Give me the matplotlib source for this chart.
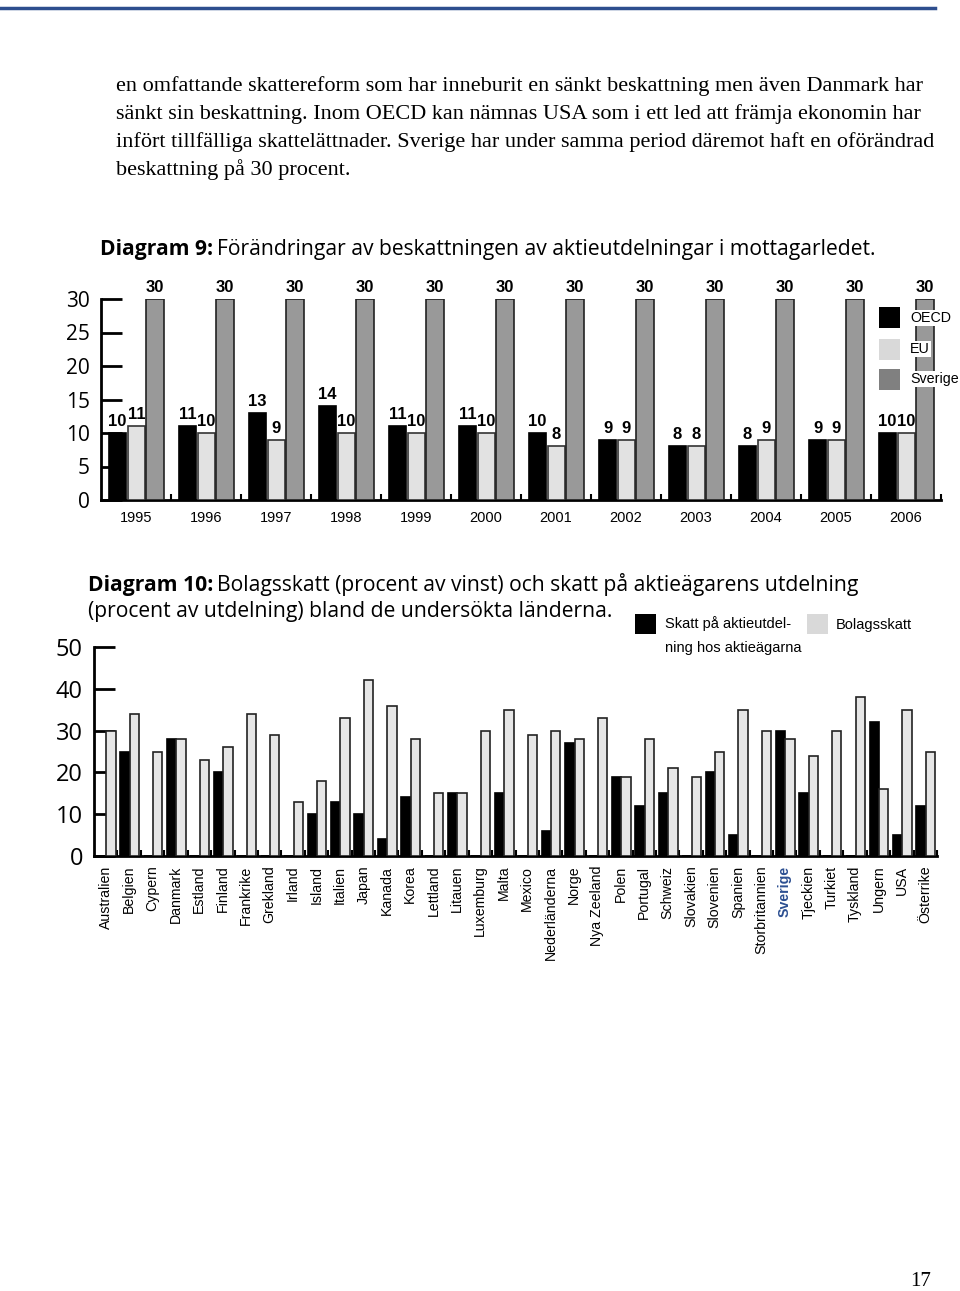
import numpy as np
import matplotlib
matplotlib.use("Agg")
import matplotlib.pyplot as plt
from matplotlib.patches import Rectangle

W, H = 960, 1291

# Diagram 9
years = [str(y) for y in range(1995, 2007)]
oecd = [10, 11, 13, 14, 11, 11, 10, 9, 8, 8, 9, 10]
eu = [11, 10, 9, 10, 10, 10, 8, 9, 8, 9, 9, 10]
sverige = [30, 30, 30, 30, 30, 30, 30, 30, 30, 30, 30, 30]

# Diagram 10
countries = ["Australien", "Belgien", "Cypern", "Danmark", "Estland", "Finland",
             "Frankrike", "Grekland", "Irland", "Island", "Italien", "Japan",
             "Kanada", "Korea", "Lettland", "Litauen", "Luxemburg", "Malta",
             "Mexico", "Nederländerna", "Norge", "Nya Zeeland", "Polen", "Portugal",
             "Schweiz", "Slovakien", "Slovenien", "Spanien", "Storbritannien",
             "Sverige", "Tjeckien", "Turkiet", "Tyskland", "Ungern", "USA", "Österrike"]
utdelning = [0, 25, 0, 28, 0, 20, 0, 0, 0, 10, 13, 10, 4, 14, 0, 15, 0, 15,
             0, 6, 27, 0, 19, 12, 15, 0, 20, 5, 0, 30, 15, 0, 0, 32, 5, 12]
bolag = [30, 34, 25, 28, 23, 26, 34, 29, 13, 18, 33, 42, 36, 28, 15, 15, 30, 35,
         29, 30, 28, 33, 19, 28, 21, 19, 25, 35, 30, 28, 24, 30, 38, 16, 35, 25]

body_lines = [
    "en omfattande skattereform som har inneburit en sänkt beskattning men även Danmark har",
    "sänkt sin beskattning. Inom OECD kan nämnas USA som i ett led att främja ekonomin har",
    "infört tillfälliga skattelättnader. Sverige har under samma period däremot haft en oförändrad",
    "beskattning på 30 procent.",
]

SANS = ["Open Sans", "DejaVu Sans"]
ARIAL = ["Liberation Sans"]
SERIF = ["Liberation Serif"]


def fx(px):
    return px / W


def fy(py):
    return 1 - py / H


fig = plt.figure(figsize=(9.6, 12.91), dpi=100)
renderer = fig.canvas.get_renderer()

# blue rule at the top of the page
fig.add_artist(plt.Line2D([0, fx(935)], [fy(8), fy(8)], color="#2e4e8e", lw=2.5))

for i, line in enumerate(body_lines):
    fig.text(fx(116), fy(86 + i * 27.8), line, family=SERIF, fontsize=16,
             ha="left", va="center")


def title(x, y, bold, rest):
    t = fig.text(fx(x), fy(y), bold, family=SANS, fontsize=15.2, weight="bold",
                 ha="left", va="center")
    bb = t.get_window_extent(renderer)
    fig.text(bb.x1 / W + 0.004, fy(y), rest, family=SANS, fontsize=15.2,
             ha="left", va="center")


# ---------------- Diagram 9 ----------------
title(100, 250, "Diagram 9:", "Förändringar av beskattningen av aktieutdelningar i mottagarledet.")

ax1 = fig.add_axes([fx(101), fy(500), fx(941) - fx(101), (500 - 299) / H])
ax1.set_xlim(0, 12)
ax1.set_ylim(0, 30)
x = np.arange(len(years))
bw = 0.245
series9 = [(oecd, 0.236, "black", "black"),
           (eu, 0.506, "#e2e2e2", "#333333"),
           (sverige, 0.772, "#999999", "#222222")]
for vals, off, fc, ec in series9:
    ax1.bar(x + off, vals, width=bw, color=fc, edgecolor=ec, linewidth=1.2, zorder=3)
    for xi, v in zip(x + off, vals):
        ax1.annotate(str(v), (xi, v), xytext=(0, 3), textcoords="offset points",
                     ha="center", va="bottom", family=ARIAL, weight="bold",
                     fontsize=12, annotation_clip=False)

for s in ["top", "right"]:
    ax1.spines[s].set_visible(False)
ax1.spines["left"].set_linewidth(2)
ax1.spines["bottom"].set_linewidth(2)
ax1.set_axisbelow(True)
ax1.set_yticks(range(0, 31, 5))
ax1.tick_params(axis="y", direction="in", length=15, width=2, pad=8,
                labelsize=15, labelfontfamily=SANS)
ax1.set_xticks(range(1, 13))
ax1.set_xticklabels([])
ax1.set_xticks(x + 0.5, minor=True)
ax1.set_xticklabels(years, minor=True, family=ARIAL, fontsize=10.5)
ax1.tick_params(axis="x", which="major", direction="in", length=4, width=1.5)
ax1.tick_params(axis="x", which="minor", length=0, pad=8)

leg9 = [("OECD", "black", 318), ("EU", "#d9d9d9", 349), ("Sverige", "#808080", 379)]
for lab, col, yc in leg9:
    fig.add_artist(Rectangle((fx(879), fy(yc + 10.5)), 21 / W, 21 / H,
                             facecolor=col, edgecolor="none",
                             transform=fig.transFigure))
    fig.text(fx(910), fy(yc), lab, family=ARIAL, fontsize=10.3, ha="left",
             va="center", bbox=dict(facecolor="white", edgecolor="none", pad=1))

# ---------------- Diagram 10 ----------------
title(88, 585, "Diagram 10:", "Bolagsskatt (procent av vinst) och skatt på aktieägarens utdelning")
fig.text(fx(88), fy(611), "(procent av utdelning) bland de undersökta länderna.",
         family=SANS, fontsize=15.2, ha="left", va="center")

ax2 = fig.add_axes([fx(94), fy(856), fx(937) - fx(94), (856 - 647) / H])
n = len(countries)
ax2.set_xlim(0, n)
ax2.set_ylim(0, 50)
xc = np.arange(n)
ax2.bar(xc + 0.32, utdelning, width=0.4, color="black", edgecolor="black",
        linewidth=1.2, zorder=3)
ax2.bar(xc + 0.72, bolag, width=0.4, color="#e6e6e6", edgecolor="#222222",
        linewidth=1.2, zorder=3)

for s in ["top", "right"]:
    ax2.spines[s].set_visible(False)
ax2.spines["left"].set_linewidth(2)
ax2.spines["bottom"].set_linewidth(2)
ax2.set_axisbelow(True)
ax2.set_yticks(range(0, 51, 10))
ax2.tick_params(axis="y", direction="in", length=15, width=2, pad=8,
                labelsize=17, labelfontfamily=SANS)
ax2.set_xticks(range(1, n + 1))
ax2.set_xticklabels([])
ax2.set_xticks(xc + 0.5, minor=True)
ax2.set_xticklabels(countries, minor=True, rotation=90, family=ARIAL, fontsize=10.2)
ax2.tick_params(axis="x", which="major", direction="in", length=4, width=1.5)
ax2.tick_params(axis="x", which="minor", length=0, pad=7)
for lbl in ax2.get_xticklabels(minor=True):
    if lbl.get_text() == "Sverige":
        lbl.set_fontweight("bold")
        lbl.set_color("#2c4f91")

fig.add_artist(Rectangle((fx(635), fy(634)), 21 / W, 20 / H, facecolor="black",
                         edgecolor="none", transform=fig.transFigure))
fig.text(fx(665), fy(624), "Skatt på aktieutdel-", family=ARIAL, fontsize=10.5,
         ha="left", va="center")
fig.text(fx(665), fy(648), "ning hos aktieägarna", family=ARIAL, fontsize=10.5,
         ha="left", va="center")
fig.add_artist(Rectangle((fx(807), fy(634)), 21 / W, 20 / H, facecolor="#d9d9d9",
                         edgecolor="none", transform=fig.transFigure))
fig.text(fx(836), fy(625), "Bolagsskatt", family=ARIAL, fontsize=10.5,
         ha="left", va="center")

fig.text(fx(921), fy(1282), "17", family=SERIF, fontsize=15, ha="center", va="center")

fig.savefig("out.png", dpi=100)
